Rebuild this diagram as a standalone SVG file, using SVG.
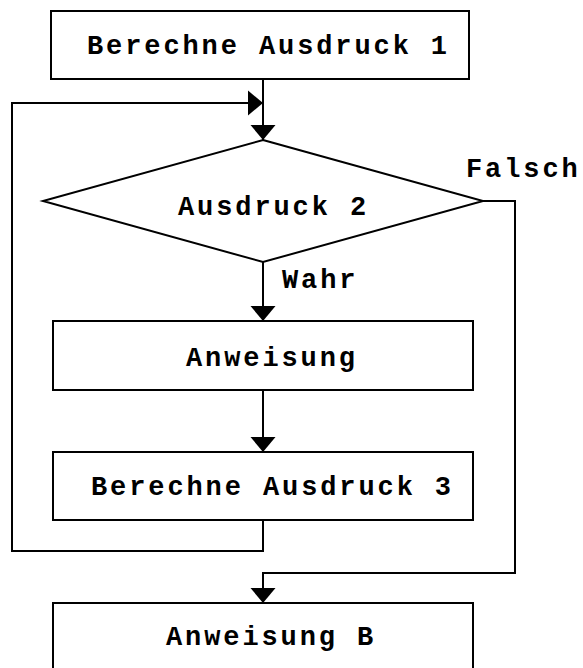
<svg xmlns="http://www.w3.org/2000/svg" width="583" height="668" viewBox="0 0 583 668">
<style>
.box{fill:#fff;stroke:#000;stroke-width:2}
.t{font-family:"Liberation Mono","Courier New",monospace;font-weight:bold;font-size:27px;letter-spacing:2.9px;fill:#000}
.c{fill:none;stroke:#000;stroke-width:2}
</style>
<defs>
<marker id="ah" viewBox="0 -13 15 26" refX="15" refY="0" markerWidth="15" markerHeight="26" markerUnits="userSpaceOnUse" orient="auto">
<path d="M0,-12.5 L15,0 L0,12.5 z" fill="#000"/>
</marker>
</defs>
<rect width="583" height="668" fill="#fff"/>
<g id="connectors">
<path class="c" d="M263,79 V140" marker-end="url(#ah)"/>
<path class="c" d="M263,520 V551 H12 V103 H263" marker-end="url(#ah)"/>
<path class="c" d="M263,262 V321" marker-end="url(#ah)"/>
<path class="c" d="M263,390 V452" marker-end="url(#ah)"/>
<path class="c" d="M483,201 H515 V573 H263 V603" marker-end="url(#ah)"/>
<text class="t" x="282" y="288">Wahr</text>
<text class="t" x="466" y="177">Falsch</text>
</g>
<g id="n1">
<rect class="box" x="51" y="11" width="418" height="68"/>
<text class="t" x="87" y="54">Berechne Ausdruck 1</text>
</g>
<g id="n2">
<polygon class="box" points="263,140 483,201 263,262 43,201"/>
<text class="t" x="178" y="215">Ausdruck 2</text>
</g>
<g id="n3">
<rect class="box" x="53" y="321" width="420" height="69"/>
<text class="t" x="186" y="366">Anweisung</text>
</g>
<g id="n4">
<rect class="box" x="53" y="452" width="420" height="68"/>
<text class="t" x="91" y="495">Berechne Ausdruck 3</text>
</g>
<g id="n5">
<rect class="box" x="53" y="603" width="420" height="80"/>
<text class="t" x="166" y="645">Anweisung B</text>
</g>
</svg>
